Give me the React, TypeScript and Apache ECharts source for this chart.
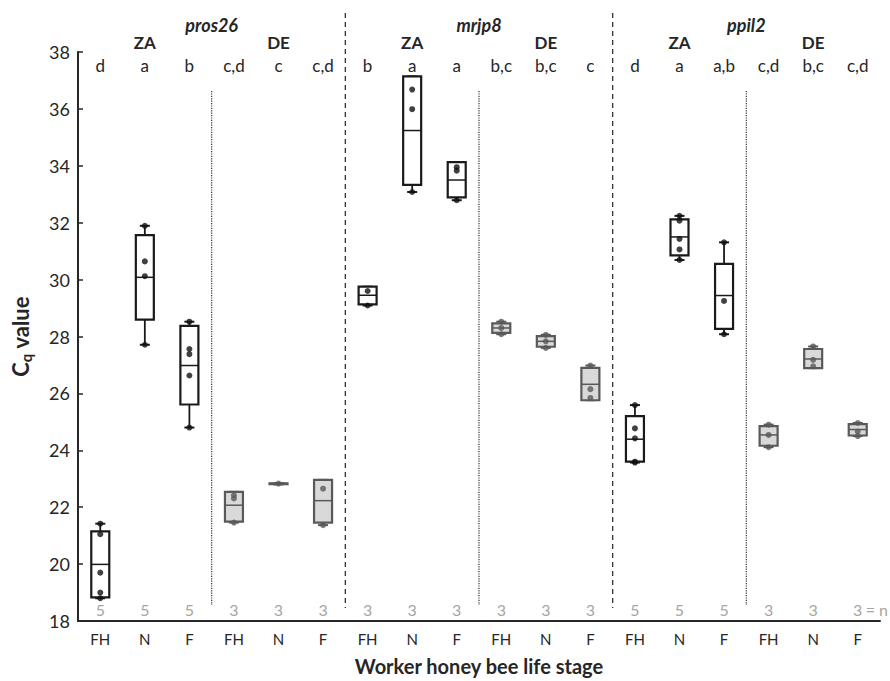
import React, { useEffect, useRef } from "react";
import * as echarts from "echarts";

const CATEGORIES = ["FH", "N", "F", "FH", "N", "F", "FH", "N", "F", "FH", "N", "F", "FH", "N", "F", "FH", "N", "F"];
const ORIGINS = ["ZA", "ZA", "ZA", "DE", "DE", "DE", "ZA", "ZA", "ZA", "DE", "DE", "DE", "ZA", "ZA", "ZA", "DE", "DE", "DE"];
const GENES = ["pros26", "mrjp8", "ppil2"];
const LETTERS = ["d", "a", "b", "c,d", "c", "c,d", "b", "a", "a", "b,c", "b,c", "c", "d", "a", "a,b", "c,d", "b,c", "c,d"];
const N_COUNTS = [5, 5, 5, 3, 3, 3, 3, 3, 3, 3, 3, 3, 5, 5, 5, 3, 3, 3];

// [lower whisker, Q1, median, Q3, upper whisker]
const BOXES = [
  [18.8, 18.83, 19.99, 21.15, 21.42],
  [27.71, 28.59, 30.08, 31.56, 31.89],
  [24.8, 25.61, 26.98, 28.37, 28.52],
  [21.46, 21.49, 22.07, 22.54, 22.54],
  [22.8, 22.81, 22.82, 22.84, 22.85],
  [21.37, 21.46, 22.23, 22.96, 22.96],
  [29.09, 29.13, 29.45, 29.75, 29.75],
  [33.08, 33.33, 35.24, 37.14, 37.14],
  [32.79, 32.89, 33.5, 34.13, 34.13],
  [28.08, 28.13, 28.3, 28.46, 28.52],
  [27.6, 27.64, 27.83, 28.01, 28.06],
  [25.76, 25.76, 26.32, 26.9, 26.98],
  [23.57, 23.6, 24.39, 25.2, 25.59],
  [30.69, 30.85, 31.5, 32.12, 32.24],
  [28.08, 28.27, 29.44, 30.55, 31.31],
  [24.11, 24.16, 24.54, 24.85, 24.9],
  [26.89, 26.89, 27.21, 27.56, 27.65],
  [24.5, 24.52, 24.73, 24.92, 24.96],
];

// individual data points per category
const POINTS = [
  [21.42, 21.05, 19.7, 19.0, 18.8],
  [31.89, 30.64, 30.12, 27.71],
  [28.52, 27.56, 27.38, 26.63, 24.8],
  [22.42, 22.31, 21.46],
  [22.83],
  [22.65, 21.37],
  [29.6, 29.09],
  [36.68, 35.99, 33.08],
  [33.95, 33.83, 32.79],
  [28.52, 28.3, 28.08],
  [28.06, 27.83, 27.6],
  [26.98, 26.15, 25.84],
  [25.59, 24.77, 24.42, 23.6, 23.57],
  [32.24, 32.07, 31.43, 31.06, 30.69],
  [31.31, 29.25, 28.08],
  [24.9, 24.54, 24.11],
  [27.65, 27.18, 26.95],
  [24.96, 24.66, 24.5],
];

const Y_MIN = 18;
const Y_MAX = 38;
const Y_INTERVAL = 2;

const FONT = "Lato, 'Open Sans', sans-serif";
const TEXT_DARK = "#262626";
const DE_STROKE = "#595959";
const DE_FILL = "#d9d9d9";
const ZA_STROKE = "#1a1a1a";

function textEl(x: number, y: number, text: string, opts: any = {}) {
  return {
    type: "text",
    x,
    y,
    silent: true,
    style: {
      text,
      fill: opts.fill || TEXT_DARK,
      fontSize: opts.fontSize || 17,
      fontFamily: FONT,
      fontWeight: opts.fontWeight || "normal",
      fontStyle: opts.fontStyle || "normal",
      align: opts.align || "center",
      verticalAlign: "middle",
      textAlign: opts.align || "center",
      textVerticalAlign: "middle",
    },
  };
}

export default function App() {
  const ref = useRef<HTMLDivElement>(null);

  useEffect(() => {
    if (!ref.current) return;
    const chart = echarts.init(ref.current, null, { renderer: "svg" });

    const zaPoints: number[][] = [];
    const dePoints: number[][] = [];
    POINTS.forEach((pts, i) => {
      pts.forEach((v) => {
        (ORIGINS[i] === "DE" ? dePoints : zaPoints).push([i, v]);
      });
    });

    const renderBox = (params: any, api: any) => {
      const i = api.value(0);
      const lo = api.value(1);
      const q1 = api.value(2);
      const med = api.value(3);
      const q3 = api.value(4);
      const hi = api.value(5);
      const x = api.coord([i, med])[0];
      const yLo = api.coord([i, lo])[1];
      const yQ1 = api.coord([i, q1])[1];
      const yMed = api.coord([i, med])[1];
      const yQ3 = api.coord([i, q3])[1];
      const yHi = api.coord([i, hi])[1];
      const isDE = ORIGINS[i] === "DE";
      const stroke = isDE ? DE_STROKE : ZA_STROKE;
      const fill = isDE ? DE_FILL : "#ffffff";
      const w = 18;
      const cw = 10;
      return {
        type: "group",
        children: [
          { type: "line", shape: { x1: x, y1: yHi, x2: x, y2: yQ3 }, style: { stroke, lineWidth: 1.8 } },
          { type: "line", shape: { x1: x, y1: yLo, x2: x, y2: yQ1 }, style: { stroke, lineWidth: 1.8 } },
          { type: "line", shape: { x1: x - cw / 2, y1: yHi, x2: x + cw / 2, y2: yHi }, style: { stroke, lineWidth: 2 } },
          { type: "line", shape: { x1: x - cw / 2, y1: yLo, x2: x + cw / 2, y2: yLo }, style: { stroke, lineWidth: 2 } },
          {
            type: "rect",
            shape: { x: x - w / 2, y: yQ3, width: w, height: Math.max(yQ1 - yQ3, 0.5) },
            style: { fill, stroke, lineWidth: 2.2 },
          },
          { type: "line", shape: { x1: x - w / 2, y1: yMed, x2: x + w / 2, y2: yMed }, style: { stroke, lineWidth: 1.5 } },
        ],
      };
    };

    const renderAnnotations = (params: any, api: any) => {
      const top = api.coord([0, Y_MAX])[1];
      const bottom = api.coord([0, Y_MIN])[1];
      const children: any[] = [];
      // separators between genes (dashed)
      [5.5, 11.5].forEach((sx) => {
        const x = api.coord([sx, Y_MIN])[0];
        children.push({
          type: "line",
          shape: { x1: x, y1: top - 39, x2: x, y2: bottom - 13 },
          style: { stroke: "#333", lineWidth: 1.3, lineDash: [5, 4] },
        });
      });
      // separators between origins (dotted)
      [2.5, 8.5, 14.5].forEach((sx) => {
        const x = api.coord([sx, Y_MIN])[0];
        children.push({
          type: "line",
          shape: { x1: x, y1: top + 39, x2: x, y2: bottom - 16 },
          style: { stroke: "#333", lineWidth: 1.2, lineDash: [1.2, 1.2] },
        });
      });
      // gene names
      GENES.forEach((g, gi) => {
        const x = api.coord([gi * 6 + 2.5, Y_MAX])[0];
        children.push(textEl(x, top - 27, g, { fontSize: 18, fontWeight: "bold", fontStyle: "italic" }));
      });
      // origin headers
      ORIGINS.forEach((o, i) => {
        if (i % 3 !== 1) return;
        const x = api.coord([i, Y_MAX])[0];
        children.push(textEl(x, top - 10, o, { fontSize: 17, fontWeight: "bold" }));
      });
      // significance letters
      LETTERS.forEach((l, i) => {
        const x = api.coord([i, Y_MAX])[0];
        children.push(textEl(x, top + 13, l, { fontSize: 17 }));
      });
      // sample sizes
      N_COUNTS.forEach((n, i) => {
        const x = api.coord([i, Y_MIN])[0];
        children.push(textEl(x, bottom - 12, String(n), { fontSize: 16, fill: "#a6a6a6" }));
        if (i === N_COUNTS.length - 1) {
          children.push(textEl(x + 8, bottom - 12, "= n", { fontSize: 16, fill: "#a6a6a6", align: "left" }));
        }
      });
      return { type: "group", children };
    };

    chart.setOption({
      animation: false,
      backgroundColor: "#ffffff",
      textStyle: { fontFamily: FONT },
      grid: { left: 77, top: 52, right: 10, bottom: 55 },
      xAxis: [
        {
          type: "category",
          data: CATEGORIES,
          boundaryGap: true,
          name: "Worker honey bee life stage",
          nameLocation: "middle",
          nameGap: 35,
          nameTextStyle: { fontSize: 20, fontWeight: "bold", color: TEXT_DARK, fontFamily: FONT },
          axisLine: { onZero: false, lineStyle: { color: "#262626", width: 2 } },
          axisTick: { inside: true, alignWithLabel: true, length: 4, lineStyle: { color: "#262626", width: 1.5 } },
          axisLabel: { color: TEXT_DARK, fontSize: 15, margin: 10, fontFamily: FONT, interval: 0 },
          splitLine: { show: false },
        },
        {
          type: "value",
          min: -0.5,
          max: 17.5,
          show: false,
          axisLine: { onZero: false },
          splitLine: { show: false },
        },
      ],
      yAxis: {
        type: "value",
        min: Y_MIN,
        max: Y_MAX,
        interval: Y_INTERVAL,
        name: "{c|C}{s|q}{c| value}",
        nameLocation: "middle",
        nameGap: 45,
        nameRotate: 90,
        nameTextStyle: {
          rich: {
            c: { fontSize: 22, fontWeight: "bold", color: TEXT_DARK, fontFamily: FONT, lineHeight: 26 },
            s: { fontSize: 15, fontWeight: "bold", color: TEXT_DARK, fontFamily: FONT, lineHeight: 14, verticalAlign: "bottom", padding: [10, 0, 0, 0] },
          },
        },
        axisLine: { show: true, onZero: false, lineStyle: { color: "#262626", width: 2 } },
        axisTick: { show: true, inside: true, length: 5, lineStyle: { color: "#262626", width: 1.5 } },
        axisLabel: { color: TEXT_DARK, fontSize: 18, margin: 8, fontFamily: FONT },
        splitLine: { show: false },
      },
      series: [
        {
          type: "custom",
          name: "boxes",
          xAxisIndex: 0,
          yAxisIndex: 0,
          data: BOXES.map((b, i) => [i, ...b]),
          encode: { x: 0, y: [1, 2, 3, 4, 5] },
          renderItem: renderBox,
          z: 2,
        },
        {
          type: "scatter",
          name: "ZA points",
          xAxisIndex: 0,
          yAxisIndex: 0,
          data: zaPoints,
          symbol: "circle",
          symbolSize: 6,
          itemStyle: { color: "#111111" },
          z: 3,
        },
        {
          type: "scatter",
          name: "DE points",
          xAxisIndex: 0,
          yAxisIndex: 0,
          data: dePoints,
          symbol: "circle",
          symbolSize: 6,
          itemStyle: { color: DE_STROKE },
          z: 3,
        },
        {
          type: "custom",
          name: "annotations",
          xAxisIndex: 1,
          yAxisIndex: 0,
          silent: true,
          data: [[0, Y_MIN]],
          renderItem: renderAnnotations,
          z: 4,
        },
      ],
    });

    return () => chart.dispose();
  }, []);

  return (
    <div
      ref={ref}
      style={{ position: "absolute", left: 0, top: 0, width: 890, height: 681 }}
    />
  );
}
